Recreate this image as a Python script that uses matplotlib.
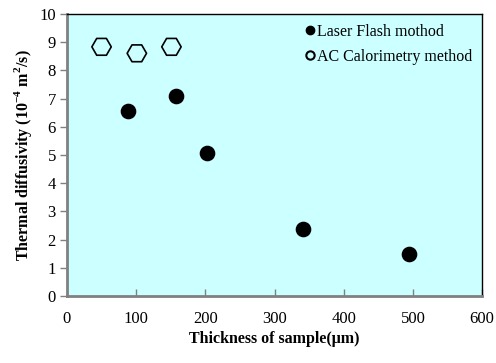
import matplotlib
matplotlib.use('Agg')
import matplotlib.pyplot as plt
from matplotlib.lines import Line2D

# 雷射閃光法與交流量熱法量測結果
laser_thickness = [88, 157, 202, 341, 494]
laser_diffusivity = [6.55, 7.08, 5.08, 2.37, 1.50]
ac_thickness = [50, 101, 151]
ac_diffusivity = [8.84, 8.61, 8.84]

x_ticks = [0, 100, 200, 300, 400, 500, 600]
y_ticks = list(range(0, 11))

plt.rcParams['font.family'] = ['Liberation Serif', 'DejaVu Serif']
plt.rcParams['mathtext.fontset'] = 'custom'
plt.rcParams['mathtext.rm'] = 'Liberation Serif'
plt.rcParams['mathtext.bf'] = 'Liberation Serif:bold'

fig = plt.figure(figsize=(4.96, 3.63), dpi=100)
ax = fig.add_axes([0.135, 0.185, 0.837, 0.776])
ax.set_facecolor('#ccffff')

ax.scatter(laser_thickness, laser_diffusivity, s=105, color='black', zorder=3)
ax.scatter(ac_thickness, ac_diffusivity, s=195, marker='H', facecolor='none',
           edgecolor='black', linewidth=1.2, zorder=3)

ax.set_xlim(0, 600)
ax.set_ylim(0, 10)
ax.set_xticks(x_ticks)
ax.set_yticks(y_ticks)
ax.tick_params(axis='x', direction='in', length=5, color='#808080', width=1,
               labelsize=12, pad=11)
ax.tick_params(axis='y', direction='out', length=5, color='#808080', width=1,
               labelsize=12, pad=3)

for side in ['left', 'bottom']:
    ax.spines[side].set_color('#808080')
    ax.spines[side].set_linewidth(2)
for side in ['top', 'right']:
    ax.spines[side].set_color('black')
    ax.spines[side].set_linewidth(1)

ax.set_xlabel('Thickness of sample(μm)', fontsize=11.5, fontweight='bold', labelpad=3)
ax.set_ylabel(r'Thermal diffusivity (10$^{\mathbf{-4}}$ m$^{\mathbf{2}}$/s)',
              fontsize=11.5, fontweight='bold', labelpad=4)

handles = [
    Line2D([], [], marker='o', linestyle='none', color='black', markersize=6),
    Line2D([], [], marker='o', linestyle='none', markerfacecolor='none',
           markeredgecolor='black', markeredgewidth=1.5, markersize=6),
]
ax.legend(handles, ['Laser Flash mothod', 'AC Calorimetry method'],
          loc='upper right', frameon=False, fontsize=11.5, handletextpad=0.05,
          handlelength=0.8, borderaxespad=0.2, labelspacing=0.55)

fig.savefig('out.png', dpi=100)
